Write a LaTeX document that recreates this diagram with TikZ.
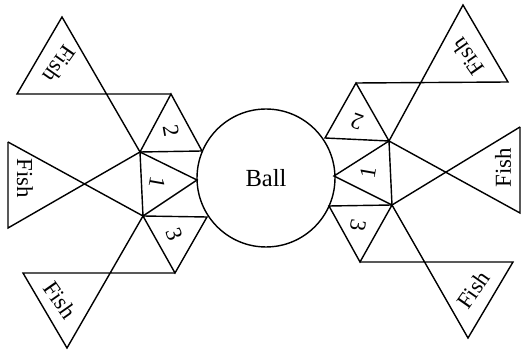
\documentclass[tikz,border=0pt]{standalone}
\usepackage{fontspec}
\setmainfont{Liberation Serif}

\begin{document}
\begin{tikzpicture}[
  x=0.02cm, y=-0.02cm,
  edge/.style={line width=0.8pt, line join=miter},
  lbl/.style={font=\fontsize{13}{15}\selectfont, inner sep=0pt},
  ball/.style={circle, draw, line width=0.8pt, minimum size=2.76cm,
    font=\fontsize{14}{16}\selectfont}
]
\useasboundingbox (0,0) rectangle (522,351);
\node[ball] (ball) at (266,178) {Ball};

\coordinate (la) at (140,152);
\coordinate (lb) at (143,216);
\coordinate (lc) at (197,180);
\coordinate (l2a) at (171,94);
\coordinate (l2r) at (202,151);
\coordinate (l3r) at (207,217);
\coordinate (l3b) at (175,273);
\coordinate (lf1a) at (62,17);
\coordinate (lf1l) at (17,94);
\coordinate (lf2t) at (8,142);
\coordinate (lf2b) at (8,228);
\coordinate (lf3l) at (23,273);
\coordinate (lf3a) at (67,348);

\coordinate (ra) at (389,141);
\coordinate (rb) at (392,205);
\coordinate (rc) at (334,176);
\coordinate (r2a) at (356,83);
\coordinate (r2l) at (325,138);
\coordinate (r3l) at (329,206);
\coordinate (r3b) at (360,262);
\coordinate (rf1a) at (463,5);
\coordinate (rf1r) at (508,82);
\coordinate (rf2t) at (520,127);
\coordinate (rf2b) at (520,213);
\coordinate (rf3r) at (513,262);
\coordinate (rf3a) at (468,338);

\draw[edge] (la) -- (lb) -- (lc) -- cycle;
\draw[edge] (la) -- (l2a) -- (l2r) -- cycle;
\draw[edge] (lb) -- (l3r) -- (l3b) -- cycle;
\draw[edge] (l2a) -- (lf1l) -- (lf1a) -- (la);
\draw[edge] (lf2t) -- (lf2b) -- (la);
\draw[edge] (lf2t) -- (lb);
\draw[edge] (l3b) -- (lf3l) -- (lf3a) -- (lb);

\draw[edge] (ra) -- (rb) -- (rc) -- cycle;
\draw[edge] (ra) -- (r2a) -- (r2l) -- cycle;
\draw[edge] (rb) -- (r3l) -- (r3b) -- cycle;
\draw[edge] (r2a) -- (rf1r) -- (rf1a) -- (ra);
\draw[edge] (rf2t) -- (rf2b) -- (ra);
\draw[edge] (rf2t) -- (rb);
\draw[edge] (r3b) -- (rf3r) -- (rf3a) -- (rb);

\node[lbl, rotate=-80] (ltwo) at (171,131) {2};
\node[lbl, rotate=-100] (lone) at (157,182) {1};
\node[lbl, rotate=-70] (lthree) at (174,234) {3};
\node[lbl, rotate=-125] (lfish1) at (60,64) {Fish};
\node[lbl, rotate=-90] (lfish2) at (25,178) {Fish};
\node[lbl, rotate=-55] (lfish3) at (60,300) {Fish};

\node[lbl, rotate=160] (rtwo) at (357,122) {2};
\node[lbl, rotate=80] (rone) at (368,173) {1};
\node[lbl, rotate=-100] (rthree) at (358,225) {3};
\node[lbl, rotate=125] (rfish1) at (468,57) {Fish};
\node[lbl, rotate=90] (rfish2) at (503,168) {Fish};
\node[lbl, rotate=55] (rfish3) at (473,290) {Fish};
\end{tikzpicture}
\end{document}
